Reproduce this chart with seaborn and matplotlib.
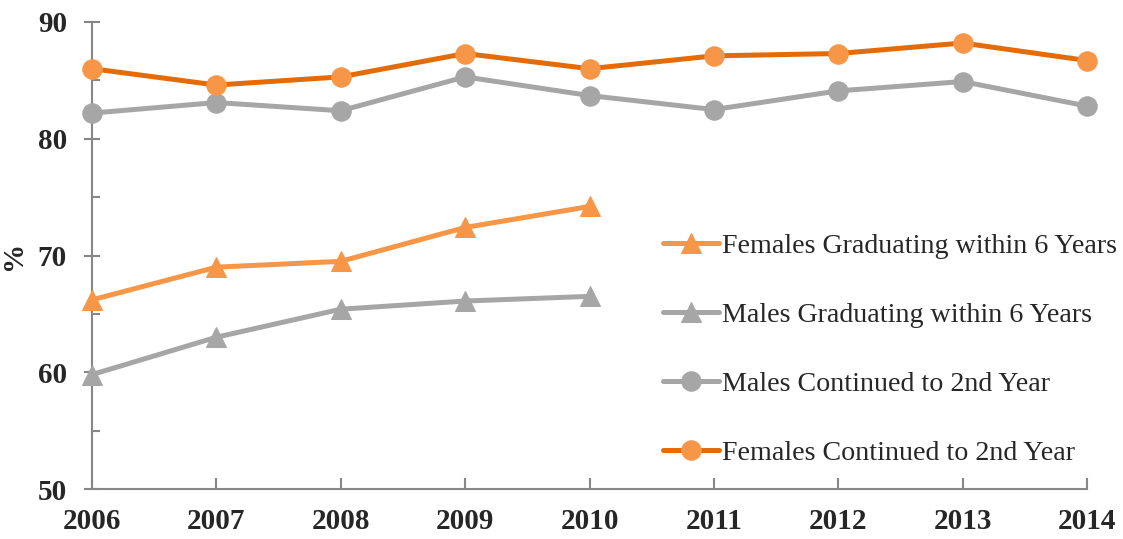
import seaborn as sns
import pandas as pd
import matplotlib.pyplot as plt
from matplotlib.ticker import MultipleLocator

# Values
years = [2006, 2007, 2008, 2009, 2010, 2011, 2012, 2013, 2014]
grad_years = [2006, 2007, 2008, 2009, 2010]
females_continued = [86.0, 84.6, 85.3, 87.3, 86.0, 87.1, 87.3, 88.2, 86.7]
males_continued = [82.2, 83.1, 82.4, 85.3, 83.7, 82.5, 84.1, 84.9, 82.8]
females_graduating = [66.2, 69.0, 69.5, 72.4, 74.2]
males_graduating = [59.8, 63.0, 65.4, 66.1, 66.5]

sns.set_style("white")
plt.rcParams['font.family'] = ['Liberation Serif', 'DejaVu Serif']

fig = plt.figure(figsize=(11.23, 5.39), dpi=100)
ax = fig.add_axes([92 / 1123, 1 - 489 / 539, (1087 - 92) / 1123, (489 - 22) / 539])

series = [
    ("Females Graduating within 6 Years", grad_years, females_graduating, "#F79646", "#F79646", "^"),
    ("Males Graduating within 6 Years", grad_years, males_graduating, "#A6A6A6", "#A6A6A6", "^"),
    ("Males Continued to 2nd Year", years, males_continued, "#A6A6A6", "#A6A6A6", "o"),
    ("Females Continued to 2nd Year", years, females_continued, "#E36C09", "#F79646", "o"),
]

for label, xs, ys, line_col, mark_col, mk in series:
    df = pd.DataFrame({"year": xs, "value": ys})
    sns.lineplot(data=df, x="year", y="value", ax=ax, color=line_col, linewidth=3.6,
                 marker=mk, markersize=14, markerfacecolor=mark_col, markeredgecolor=mark_col,
                 label=label, clip_on=False, zorder=3)

ax.set_xlim(2006, 2014)
ax.set_ylim(50, 90)
ax.set_xticks(years)
ax.yaxis.set_major_locator(MultipleLocator(10))
ax.yaxis.set_minor_locator(MultipleLocator(5))

for side in ["top", "right"]:
    ax.spines[side].set_visible(False)
for side in ["left", "bottom"]:
    ax.spines[side].set_color("#878787")
    ax.spines[side].set_linewidth(1.5)

ax.tick_params(axis="y", which="major", direction="inout", length=12, width=1.5, color="#878787",
               labelsize=21, pad=12, left=True)
ax.tick_params(axis="y", which="minor", direction="in", length=6, width=1.5, color="#878787", left=True)
ax.tick_params(axis="x", which="major", direction="in", length=8, width=1.5, color="#878787",
               labelsize=21, pad=14, bottom=True)
for lbl in ax.get_xticklabels() + ax.get_yticklabels():
    lbl.set_fontweight("bold")

ax.set_xlabel("")
ax.set_ylabel("%", fontsize=21, fontweight="bold", labelpad=8)

ax.legend(loc="upper left", bbox_to_anchor=(652 / 1123, 1 - 222 / 539), bbox_transform=fig.transFigure,
          frameon=False, fontsize=20.2, handlelength=2.0, handletextpad=0.1, labelspacing=1.55,
          borderaxespad=0)

fig.savefig("out.png", dpi=100)
